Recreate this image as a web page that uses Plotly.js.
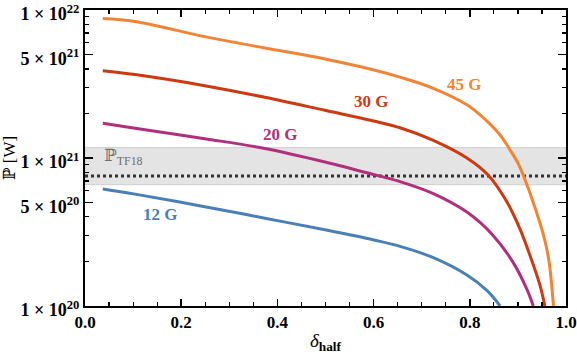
<!DOCTYPE html>
<html>
<head>
<meta charset="utf-8">
<script src="https://cdn.plot.ly/plotly-3.0.1.min.js"></script>
<style>html,body{margin:0;padding:0;background:#fff;}#chart{width:577px;height:354px;}</style>
</head>
<body>
<div id="chart"></div>
<script>
// Data (delta_half vs P in W)
const delta45 = [0.037, 0.104, 0.249, 0.374, 0.499, 0.603, 0.655, 0.723, 0.794, 0.825, 0.863, 0.884, 0.900, 0.911, 0.936, 0.956, 0.965, 0.974];
const power45 = [8.75e21, 8.36e21, 6.61e21, 5.54e21, 4.67e21, 3.92e21, 3.52e21, 2.97e21, 2.29e21, 1.91e21, 1.43e21, 1.13e21, 9.25e20, 7.67e20, 4.58e20, 2.78e20, 1.97e20, 1.0e20];

const delta30 = [0.037, 0.104, 0.249, 0.374, 0.499, 0.603, 0.655, 0.723, 0.794, 0.838, 0.877, 0.904, 0.925, 0.946, 0.956];
const power30 = [3.89e21, 3.66e21, 3.08e21, 2.57e21, 2.10e21, 1.77e21, 1.60e21, 1.32e21, 1.00e21, 7.67e20, 5.06e20, 3.33e20, 2.20e20, 1.38e20, 1.0e20];

const delta20 = [0.037, 0.104, 0.249, 0.374, 0.499, 0.609, 0.655, 0.723, 0.794, 0.848, 0.890, 0.919, 0.932];
const power20 = [1.72e21, 1.59e21, 1.35e21, 1.16e21, 9.40e20, 7.60e20, 6.93e20, 5.77e20, 4.31e20, 3.01e20, 1.97e20, 1.29e20, 1.0e20];

const delta12 = [0.037, 0.104, 0.249, 0.374, 0.499, 0.603, 0.655, 0.723, 0.794, 0.836, 0.863];
const power12 = [6.17e20, 5.70e20, 4.69e20, 3.92e20, 3.27e20, 2.78e20, 2.53e20, 2.13e20, 1.62e20, 1.27e20, 1.0e20];

const seriesLabels = ["45 G", "30 G", "20 G", "12 G"];
const seriesColors = ["#F28535", "#CC3A12", "#B0307E", "#4A80B8"];

const refLabel = "ℙ<sub>TF18</sub>";
const refX = [0, 1];
const refValue = 7.55e20;
const bandLow = 6.6e20;
const bandHigh = 1.175e21;

const yTickVals = [1e20, 5e20, 1e21, 5e21, 1e22];
const yTickText = ["<b>1 × 10<sup>20</sup></b>", "<b>5 × 10<sup>20</sup></b>", "<b>1 × 10<sup>21</sup></b>", "<b>5 × 10<sup>21</sup></b>", "<b>1 × 10<sup>22</sup></b>"];
const yMinorVals = [2e20, 3e20, 4e20, 6e20, 7e20, 8e20, 9e20, 2e21, 3e21, 4e21, 6e21, 7e21, 8e21, 9e21];

const serif = "Liberation Serif, Times New Roman, DejaVu Serif, serif";

const deltas = [delta45, delta30, delta20, delta12];
const powers = [power45, power30, power20, power12];

const traces = [];
traces.push({
  x: refX, y: [refValue, refValue], mode: "lines", type: "scatter",
  line: {color: "#333333", width: 3, dash: "dot"}, hoverinfo: "skip", showlegend: false
});
for (let i = 0; i < 4; i++) {
  traces.push({
    x: deltas[i], y: powers[i], mode: "lines", type: "scatter", name: seriesLabels[i],
    line: {color: seriesColors[i], width: 3, shape: "spline", smoothing: 1},
    showlegend: false
  });
}

const labelPos = [[0.788, 0.747], [0.595, 0.690], [0.405, 0.578], [0.156, 0.310]];
const annotations = seriesLabels.map((t, i) => ({
  text: "<b>" + t + "</b>", x: labelPos[i][0], y: labelPos[i][1], xref: "x", yref: "paper",
  xanchor: "center", yanchor: "middle",
  showarrow: false, font: {family: serif, size: 17, color: seriesColors[i]}
}));
annotations.push({
  text: refLabel, x: 0.035, y: 0.505, xref: "x", yref: "paper", xanchor: "left", yanchor: "middle",
  showarrow: false, font: {family: serif, size: 17, color: "#6e6e6e"}
});

const layout = {
  width: 577, height: 354,
  margin: {l: 85, r: 11, t: 10, b: 48},
  paper_bgcolor: "#ffffff", plot_bgcolor: "#ffffff",
  showlegend: false,
  xaxis: {
    range: [0, 1], showgrid: false, zeroline: false,
    showline: true, linecolor: "#000", linewidth: 2, mirror: "ticks",
    ticks: "inside", ticklen: 7, tickwidth: 1.5, tickcolor: "#000",
    dtick: 0.2, tick0: 0, tickformat: ".1f",
    minor: {dtick: 0.05, tick0: 0, ticklen: 4, tickwidth: 1.2, tickcolor: "#000", ticks: "inside"},
    tickfont: {family: serif, size: 17, color: "#000", weight: "bold"},
    ticklabeloverflow: "allow",
    title: {text: "<i>δ</i><sub><b>half</b></sub>", font: {family: serif, size: 19, color: "#000"}, standoff: 6}
  },
  yaxis: {
    type: "log", range: [19.9999, 22.0001], showgrid: false, zeroline: false,
    showline: true, linecolor: "#000", linewidth: 2, mirror: "ticks",
    ticks: "inside", ticklen: 8, tickwidth: 1.5, tickcolor: "#000",
    tickmode: "array", tickvals: yTickVals, ticktext: yTickText,
    minor: {tickmode: "array", tickvals: yMinorVals, ticklen: 4, tickwidth: 1.2, tickcolor: "#000", ticks: "inside"},
    tickfont: {family: serif, size: 18, color: "#000", weight: "bold"},
    ticklabeloverflow: "allow", ticklabelshift: 4,
    title: {text: "ℙ [W]", font: {family: serif, size: 17, color: "#000"}, standoff: 2}
  },
  shapes: [{
    type: "rect", xref: "paper", yref: "y", x0: 0, x1: 1, y0: bandLow, y1: bandHigh,
    fillcolor: "#e4e4e4", line: {color: "#cfcfcf", width: 1}, layer: "below"
  }],
  annotations: annotations
};

Plotly.newPlot("chart", traces, layout, {staticPlot: true, displayModeBar: false});
</script>
</body>
</html>
